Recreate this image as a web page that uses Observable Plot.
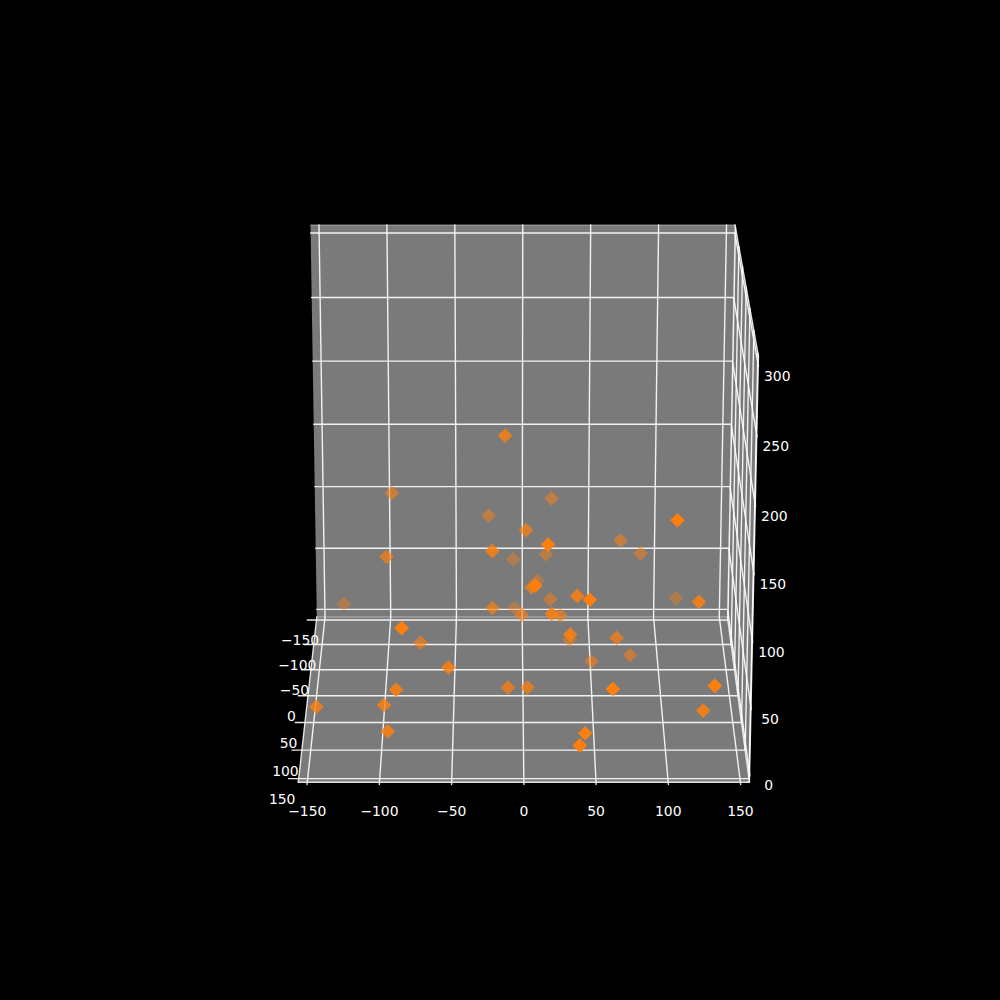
<!DOCTYPE html><html><head><meta charset="utf-8">
<style>html,body{margin:0;background:#000}svg{display:block}</style>
<script src="https://cdn.jsdelivr.net/npm/d3@7"></script>
<script src="https://cdn.jsdelivr.net/npm/@observablehq/plot@0.6"></script>
</head><body>
<script>
// values
const xv=[-132,-85,-74,-53,-90,-99,-147,-96,-22,-6,-1,-11,3,38,46,20,113,124,20,27,33,34,67,78,50,62,133,127,43,39,-13,-95,21,-25,2,17,-22,17,-7,-98,11,8,6,107,71,86];
const yv=[-69,105,11,73,78,68,69,88,16,-68,4,50,50,56,99,-42,-70,57,60,-10,65,-32,24,-14,-12,120,119,83,117,134,2,-40,-67,-63,-3,85,45,-67,-80,4,-75,95,11,79,-43,-53];
const zv=[39,89,40,46,31,15,14,3,69,36,59,21,21,94,108,53,43,90,82,53,68,25,49,20,16,49,51,17,14,12,196,137,123,111,122,144,124,79,70,104,55,117,83,160,99,85];
const xTicks=[-150,-100,-50,0,50,100,150];
const yTicks=[-150,-100,-50,0,50,100,150];
const zTicks=[0,50,100,150,200,250,300];
const lim=156.25;
const zlo=-6.25, zhi=306.25;

// camera of the 3D view
const e=20*Math.PI/180,c=Math.cos(e),s=Math.sin(e),F=4300,D=19.66,cv=494.6,vs=.993;
function pr(x,y,z){
  const X=x/lim,Y=y/lim,Z=(z-150)/lim,d=Y*c+Z*s,w=F/(D-d);
  return {u:522.8+.9*d+w*X,v:cv-vs*w*(Z*c-Y*s),d};
}
const seg=(pts,id)=>pts.map(p=>{const q=pr(...p);return {u:q.u,v:q.v,id};});

const panes=[
 [[-lim,-lim,zlo],[lim,-lim,zlo],[lim,-lim,zhi],[-lim,-lim,zhi]],
 [[-lim,-lim,zlo],[lim,-lim,zlo],[lim,lim,zlo],[-lim,lim,zlo]],
 [[lim,-lim,zlo],[lim,lim,zlo],[lim,lim,zhi],[lim,-lim,zhi]]
].flatMap((p,i)=>seg([...p,p[0]],i));

let grid=[],n=0;
for(const t of xTicks){
  grid.push(...seg([[t,-lim,zhi],[t,-lim,zlo],[t,lim,zlo],[t,lim+4,zlo]],n++));
}
for(const t of yTicks){
  grid.push(...seg([[-lim-7,t,zlo],[lim,t,zlo],[lim,t,zhi]],n++));
}
for(const t of zTicks){
  grid.push(...seg([[-lim,-lim,t],[lim,-lim,t],[lim,lim,t],[lim,lim+3,t]],n++));
}
const edges=[
 [[-lim,lim,zlo],[lim,lim,zlo]],
 [[-lim,lim,zlo],[-lim,-lim,zlo]],
 [[lim,lim,zlo],[lim,lim,zhi]],
 [[lim,lim,zhi],[lim,-lim,zhi]],
 [[lim,lim,zlo],[lim,-lim,zlo]]
].flatMap((p,i)=>seg(p,i));
const faint=[
 [[-lim,-lim,zhi],[lim,-lim,zhi]],
 [[-lim,-lim,zlo],[lim,-lim,zlo]],
 [[lim,-lim,zlo],[lim,-lim,zhi]]
].flatMap((p,i)=>seg(p,i));

const pts=xv.map((x,i)=>{const q=pr(x,yv[i],zv[i]);
  return {u:q.u,v:q.v,a:Math.min(1,Math.max(.3,.3+.7*(q.d+.85)/1.35))};}).sort((a,b)=>a.a-b.a);

const fmt=t=>String(t).replace("-","\u2212");
const xLab=xTicks.map(t=>{const q=pr(t,lim,zlo);return {u:q.u,v:q.v+29,t:fmt(t)};});
const yLab=yTicks.map(t=>{const q=pr(-lim,t,zlo);return {u:q.u-16.5,v:q.v+21,t:fmt(t)};});
const zLab=zTicks.map(t=>{const q=pr(lim,lim,t);return {u:q.u+19,v:q.v+11.5,t:fmt(t)};});
const labels=[...xLab,...yLab,...zLab];

document.body.append(Plot.plot({
  width:1000,height:1000,margin:0,
  style:{background:"#000"},
  x:{domain:[0,1000],range:[0,1000],axis:null},
  y:{domain:[0,1000],range:[0,1000],axis:null},
  opacity:{type:"identity"},
  marks:[
    Plot.line(panes,{x:"u",y:"v",z:"id",fill:"#7a7a7a",stroke:"none",curve:"linear"}),
    Plot.line(faint,{x:"u",y:"v",z:"id",stroke:"#fff",strokeOpacity:.45,strokeWidth:1}),
    Plot.line(grid,{x:"u",y:"v",z:"id",stroke:"#fff",strokeOpacity:.9,strokeWidth:1.4}),
    Plot.line(edges,{x:"u",y:"v",z:"id",stroke:"#fff",strokeOpacity:.85,strokeWidth:1.4}),
    Plot.dot(pts,{x:"u",y:"v",symbol:"diamond2",r:6.6,fill:"#ff7f0e",stroke:"none",fillOpacity:"a"}),
    Plot.text(labels,{x:"u",y:"v",text:"t",fill:"#fff",fontSize:13.9,fontFamily:"DejaVu Sans",textAnchor:"middle"})
  ]
}));
</script></body></html>
